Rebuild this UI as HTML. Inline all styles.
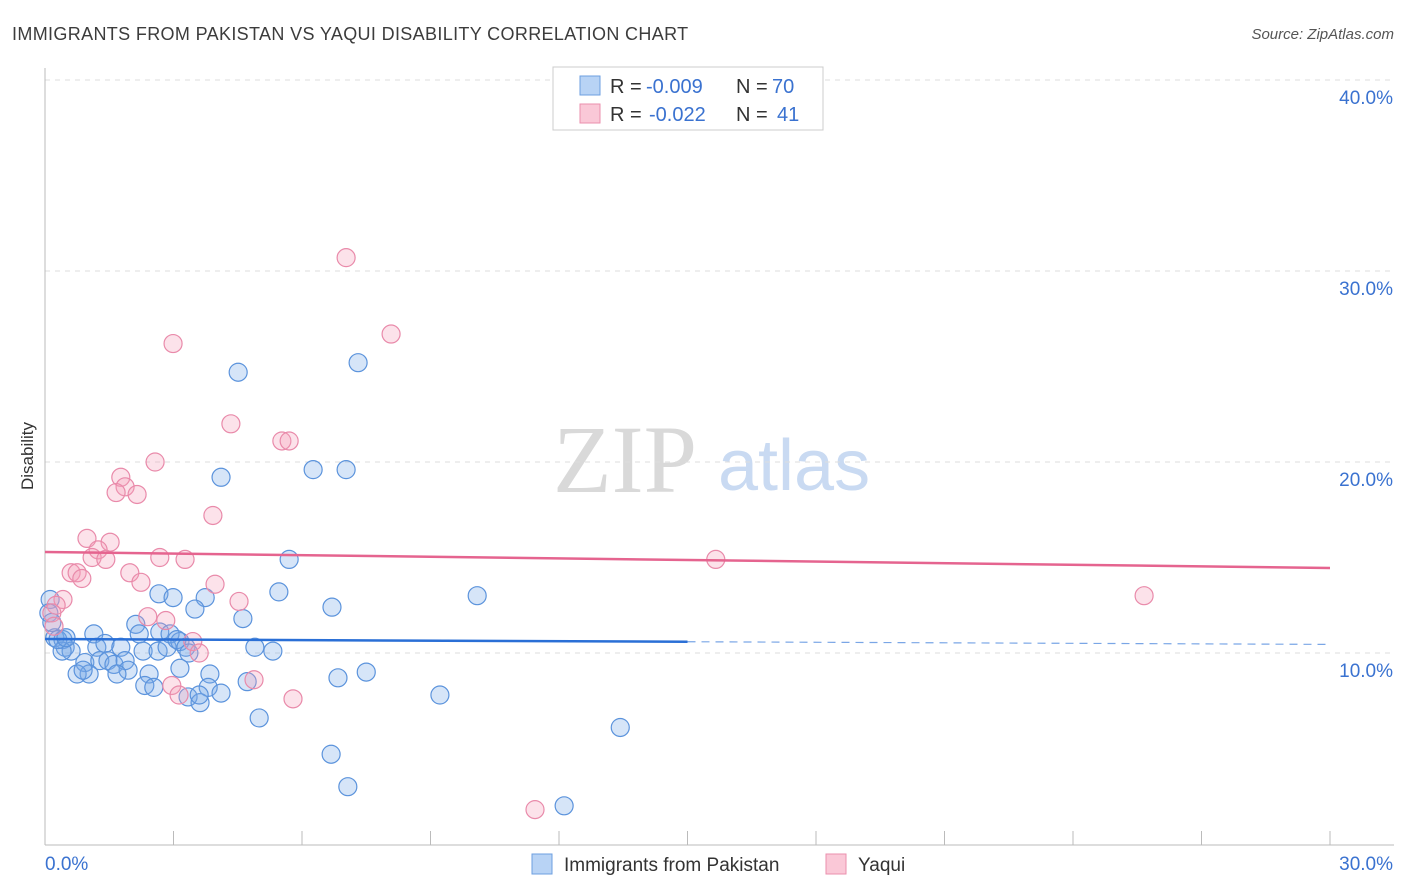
<!DOCTYPE html>
<html><head><meta charset="utf-8"><style>
body{margin:0;background:#fff;font-family:"Liberation Sans",sans-serif}
</style></head><body>
<svg id="c" width="1406" height="892" xmlns="http://www.w3.org/2000/svg" style="display:block">
<text x="12" y="40" font-size="18" fill="#3c3c3c" letter-spacing="0.35">IMMIGRANTS FROM PAKISTAN VS YAQUI DISABILITY CORRELATION CHART</text>
<text x="1394" y="39" font-size="15" fill="#555" font-style="italic" text-anchor="end">Source: ZipAtlas.com</text>
<g><text x="553" y="492" font-size="96" fill="#d9d9d9" font-family="Liberation Serif,serif">ZIP</text><text x="718" y="490" font-size="72" fill="#c9daf2">atlas</text></g>
<g id="grid"></g><g id="axes"></g><g id="pts"></g><g id="trend"></g>
<text transform="translate(33,456) rotate(-90)" font-size="17" fill="#333" text-anchor="middle">Disability</text>
<g>
<rect x="553" y="67" width="270" height="63" fill="#fff" stroke="#ccc"/>
<rect x="580" y="76" width="20" height="19" fill="#b8d3f5" stroke="#6d9fe0"/>
<rect x="580" y="104" width="20" height="19" fill="#fac8d7" stroke="#eb8fae"/>
<text y="93" font-size="20" fill="#333"><tspan x="610">R =</tspan><tspan x="646" fill="#3a72d0">-0.009</tspan><tspan x="736">N =</tspan><tspan x="772" fill="#3a72d0">70</tspan></text>
<text y="121" font-size="20" fill="#333"><tspan x="610">R =</tspan><tspan x="649" fill="#3a72d0">-0.022</tspan><tspan x="736">N =</tspan><tspan x="777" fill="#3a72d0">41</tspan></text>
</g>
<g>
<rect x="532" y="854" width="20" height="20" fill="#b8d3f5" stroke="#6d9fe0"/>
<text x="564" y="871" font-size="19" fill="#333">Immigrants from Pakistan</text>
<rect x="826" y="854" width="20" height="20" fill="#fac8d7" stroke="#eb8fae"/>
<text x="858" y="871" font-size="19" fill="#333">Yaqui</text>
</g>
</svg>
<script>
const blueX=[4.51,7.31,4.11,6.26,7.03,5.70,10.09,5.46,6.70,2.66,2.99,3.74,3.50,4.62,2.12,2.20,2.68,2.92,1.14,0.23,0.42,0.47,0.61,0.40,1.21,1.40,1.77,2.29,2.64,2.85,3.15,3.08,3.29,3.36,4.90,5.32,0.93,1.28,1.47,1.61,1.87,1.94,1.03,0.75,0.89,1.68,2.43,3.15,3.85,6.84,7.50,2.33,2.54,3.81,4.11,3.34,3.62,3.60,4.72,5.00,9.22,13.43,6.68,7.07,12.12,0.12,0.09,0.16,0.30,0.49];
const blueY=[24.7,25.2,19.2,19.6,19.6,14.9,13.0,13.2,12.4,13.1,12.9,12.9,12.3,11.8,11.5,11.0,11.1,11.0,11.0,10.8,10.7,10.3,10.1,10.1,10.3,10.5,10.3,10.1,10.1,10.3,10.6,10.7,10.3,10.0,10.3,10.1,9.5,9.6,9.6,9.4,9.6,9.1,8.9,8.9,9.1,8.9,8.9,9.2,8.9,8.7,9.0,8.3,8.2,8.2,7.9,7.7,7.4,7.8,8.5,6.6,7.8,6.1,4.7,3.0,2.0,12.8,12.1,11.6,10.7,10.8];
const pinkX=[7.03,8.08,2.99,4.34,5.53,5.70,2.57,1.77,1.87,1.66,2.15,3.92,0.98,1.52,1.24,1.10,1.42,2.68,3.27,15.66,0.61,0.75,0.86,1.98,2.24,3.97,4.53,25.66,0.42,0.26,2.40,2.82,3.45,2.96,3.13,3.60,4.88,5.79,11.44,0.16,0.21];
const pinkY=[30.7,26.7,26.2,22.0,21.1,21.1,20.0,19.2,18.7,18.4,18.3,17.2,16.0,15.8,15.4,15.0,14.9,15.0,14.9,14.9,14.2,14.2,13.9,14.2,13.7,13.6,12.7,13.0,12.8,12.5,11.9,11.7,10.6,8.3,7.8,10.0,8.6,7.6,1.8,12.1,11.4];
const blueTrend=[10.73,10.45], pinkTrend=[15.29,14.45];
const yTicks=[10,20,30,40], yTickLabels=["10.0%","20.0%","30.0%","40.0%"];
const xTicks=[0,3,6,9,12,15,18,21,24,27,30];
const NS="http://www.w3.org/2000/svg";
const X=v=>45+v/30*1285, Y=v=>844-v*19.1;
function mk(p,t,a){const e=document.createElementNS(NS,t);for(const k in a)e.setAttribute(k,a[k]);p.appendChild(e);return e;}
const grid=document.getElementById('grid'),axes=document.getElementById('axes'),pts=document.getElementById('pts'),tr=document.getElementById('trend');
yTicks.forEach((v,i)=>{const l=mk(grid,'line',{x1:45,x2:1394,y1:Y(v),y2:Y(v),stroke:'#ddd','stroke-dasharray':'5,5'});

const t=mk(axes,'text',{x:1393,y:Y(v)+24,'font-size':19,fill:'#3a72d0','text-anchor':'end'});t.textContent=yTickLabels[i];
});
const ax=mk(axes,'line',{x1:45,x2:1394,y1:845,y2:845,stroke:'#bbb'});
const ay=mk(axes,'line',{x1:45,x2:45,y1:68,y2:845,stroke:'#bbb'});
xTicks.forEach(v=>{const l=mk(axes,'line',{x1:X(v),x2:X(v),y1:831,y2:845,stroke:'#bbb'});});
[["0.0%",45,"start"],["30.0%",1393,"end"]].forEach(a=>{const t=mk(axes,'text',{x:a[1],y:870,'font-size':19,fill:'#3a72d0','text-anchor':a[2]});t.textContent=a[0];});
blueX.forEach((v,i)=>{const c=mk(pts,'circle',{cx:X(v),cy:Y(blueY[i]),r:9,fill:'rgba(120,168,232,0.3)',stroke:'#5b93dc','stroke-width':1.2});
});
pinkX.forEach((v,i)=>{const c=mk(pts,'circle',{cx:X(v),cy:Y(pinkY[i]),r:9,fill:'rgba(244,160,186,0.3)',stroke:'#e98aaa','stroke-width':1.2});
});
const bm=blueTrend[0]+(blueTrend[1]-blueTrend[0])*0.5;
let l=mk(tr,'line',{x1:X(0),y1:Y(blueTrend[0]),x2:X(15),y2:Y(bm),stroke:'#2a6fd6','stroke-width':2.5});

l=mk(tr,'line',{x1:X(15),y1:Y(bm),x2:X(30),y2:Y(blueTrend[1]),stroke:'#7aa6e6','stroke-width':1.2,'stroke-dasharray':'8,6'});

l=mk(tr,'line',{x1:X(0),y1:Y(pinkTrend[0]),x2:X(30),y2:Y(pinkTrend[1]),stroke:'#e5648f','stroke-width':2.5});

</script>
</body></html>
